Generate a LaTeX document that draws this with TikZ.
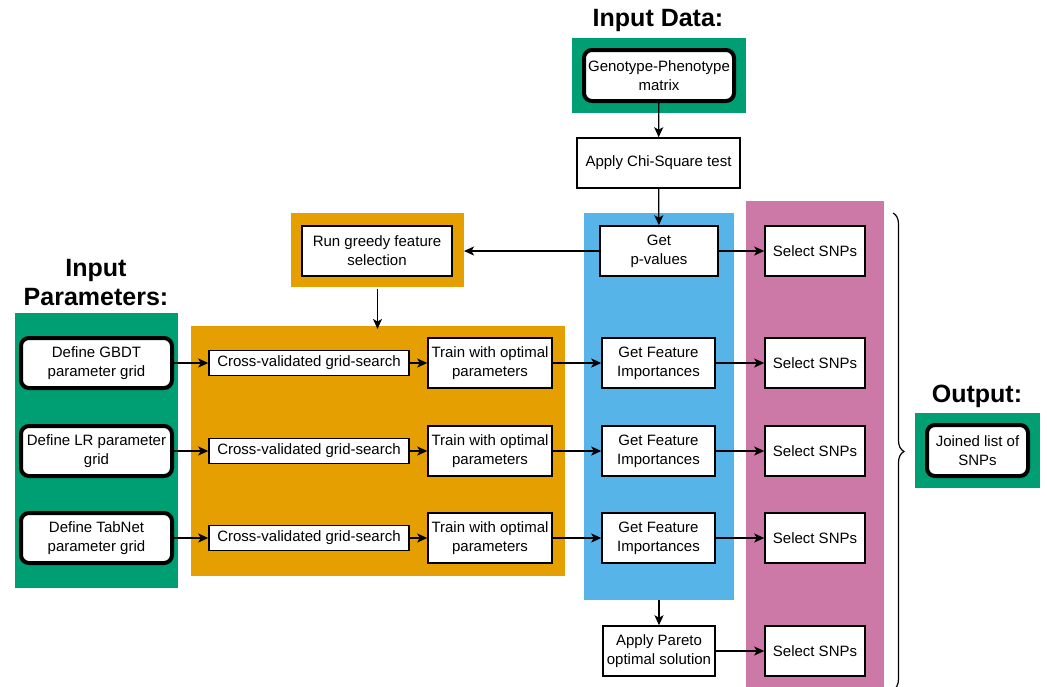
\documentclass[tikz,border=0pt]{standalone}
\usepackage{fontspec}
\setmainfont{Liberation Sans}
\usetikzlibrary{shapes,arrows,arrows.meta,decorations.pathreplacing}
\definecolor{okgreen}{HTML}{009E73}
\definecolor{okorange}{HTML}{E69F00}
\definecolor{okblue}{HTML}{56B4E9}
\definecolor{okpink}{HTML}{CC79A7}
\tikzstyle{arrow} = [line width=1.3pt,-{Stealth[length=10pt,width=9pt,inset=2.5pt]}]
\tikzstyle{plainbox} = [draw, line width=1.5pt, fill=white, align=center, inner sep=0pt, font=\fontsize{15}{19}\selectfont]
\tikzstyle{roundbox} = [plainbox, rounded corners=8pt, line width=4pt]
\tikzstyle{panel} = [anchor=north west, inner sep=0pt, outer sep=0pt]
\tikzstyle{heading} = [align=center, font=\bfseries\fontsize{25}{29}\selectfont]

\begin{document}
\begin{tikzpicture}[x=1pt,y=-1pt]
  \useasboundingbox (0,0) rectangle (1047,686);
  % coloured panels
  \node[panel, fill=okgreen, minimum width=174, minimum height=75] (datapanel) at (572,38) {};
  \node[panel, fill=okgreen, minimum width=163, minimum height=275] (parpanel) at (15,313) {};
  \node[panel, fill=okorange, minimum width=173, minimum height=74] (greedypanel) at (291,213) {};
  \node[panel, fill=okorange, minimum width=374, minimum height=250] (cvpanel) at (191,326) {};
  \node[panel, fill=okblue, minimum width=150, minimum height=387] (fipanel) at (584,213) {};
  \node[panel, fill=okpink, minimum width=138, minimum height=490] (snppanel) at (746,201) {};
  \node[panel, fill=okgreen, minimum width=125, minimum height=75] (outpanel) at (915,413) {};

  % headings
  \node[heading] (datatitle) at (658,20) {Input Data:};
  \node[heading] (partitle) at (96,283) {Input\\Parameters:};
  \node[heading] (outtitle) at (977,396) {Output:};

  % boxes
  \node[roundbox, minimum width=150, minimum height=51] (matrix) at (659,75.5) {Genotype-Phenotype\\matrix};
  \node[plainbox, minimum width=163, minimum height=50] (chi) at (658.5,163) {Apply Chi-Square test};
  \node[plainbox, minimum width=118, minimum height=50] (pval) at (659,251) {Get\\p-values};
  \node[plainbox, minimum width=150, minimum height=50] (greedy) at (377,251) {Run greedy feature\\selection};
  \node[plainbox, minimum width=100, minimum height=50] (snp0) at (815,251) {Select SNPs};

  \foreach \i/\y in {1/363, 2/451, 3/538}{
    \node[plainbox, minimum width=200, minimum height=25] (cv\i) at (309,\y) {Cross-validated grid-search};
    \node[plainbox, minimum width=124, minimum height=50] (train\i) at (490,\y) {Train with optimal\\parameters};
    \node[plainbox, minimum width=113, minimum height=50] (fi\i) at (658.5,\y) {Get Feature\\Importances};
    \node[plainbox, minimum width=100, minimum height=50] (snp\i) at (815,\y) {Select SNPs};
    \draw[arrow] (cv\i) -- (train\i);
    \draw[arrow] (train\i) -- (fi\i);
    \draw[arrow] (fi\i) -- (snp\i);
  }
  \node[roundbox, minimum width=151, minimum height=50] (def1) at (96.5,363) {Define GBDT\\parameter grid};
  \node[roundbox, minimum width=151, minimum height=50] (def2) at (96.5,451) {Define LR parameter\\grid};
  \node[roundbox, minimum width=151, minimum height=50] (def3) at (96.5,538) {Define TabNet\\parameter grid};
  \foreach \i in {1,2,3}
    \draw[arrow] (def\i) -- (cv\i);

  \node[plainbox, minimum width=112, minimum height=50] (pareto) at (659,651) {Apply Pareto\\optimal solution};
  \node[plainbox, minimum width=100, minimum height=50] (snp4) at (815,651) {Select SNPs};
  \node[roundbox, minimum width=101, minimum height=51] (joined) at (977.5,450.5) {Joined list of\\SNPs};

  % connectors
  \draw[arrow] (matrix) -- (chi);
  \draw[arrow] (chi) -- (pval);
  \draw[arrow] (pval) -- (snp0);
  \draw[arrow] (pval.west) -- (pval.west -| greedypanel.east);
  \draw[arrow] (greedypanel.south) ++(0,2) -- ([yshift=-3pt]cvpanel.north -| greedypanel.south);
  \draw[arrow] (fipanel.south -| pareto.north) -- (pareto);
  \draw[arrow] (pareto) -- (snp4);
  \draw[line width=1.2pt, decorate, decoration={brace, amplitude=11pt}] (893,213) -- (893,690);
\end{tikzpicture}
\end{document}
